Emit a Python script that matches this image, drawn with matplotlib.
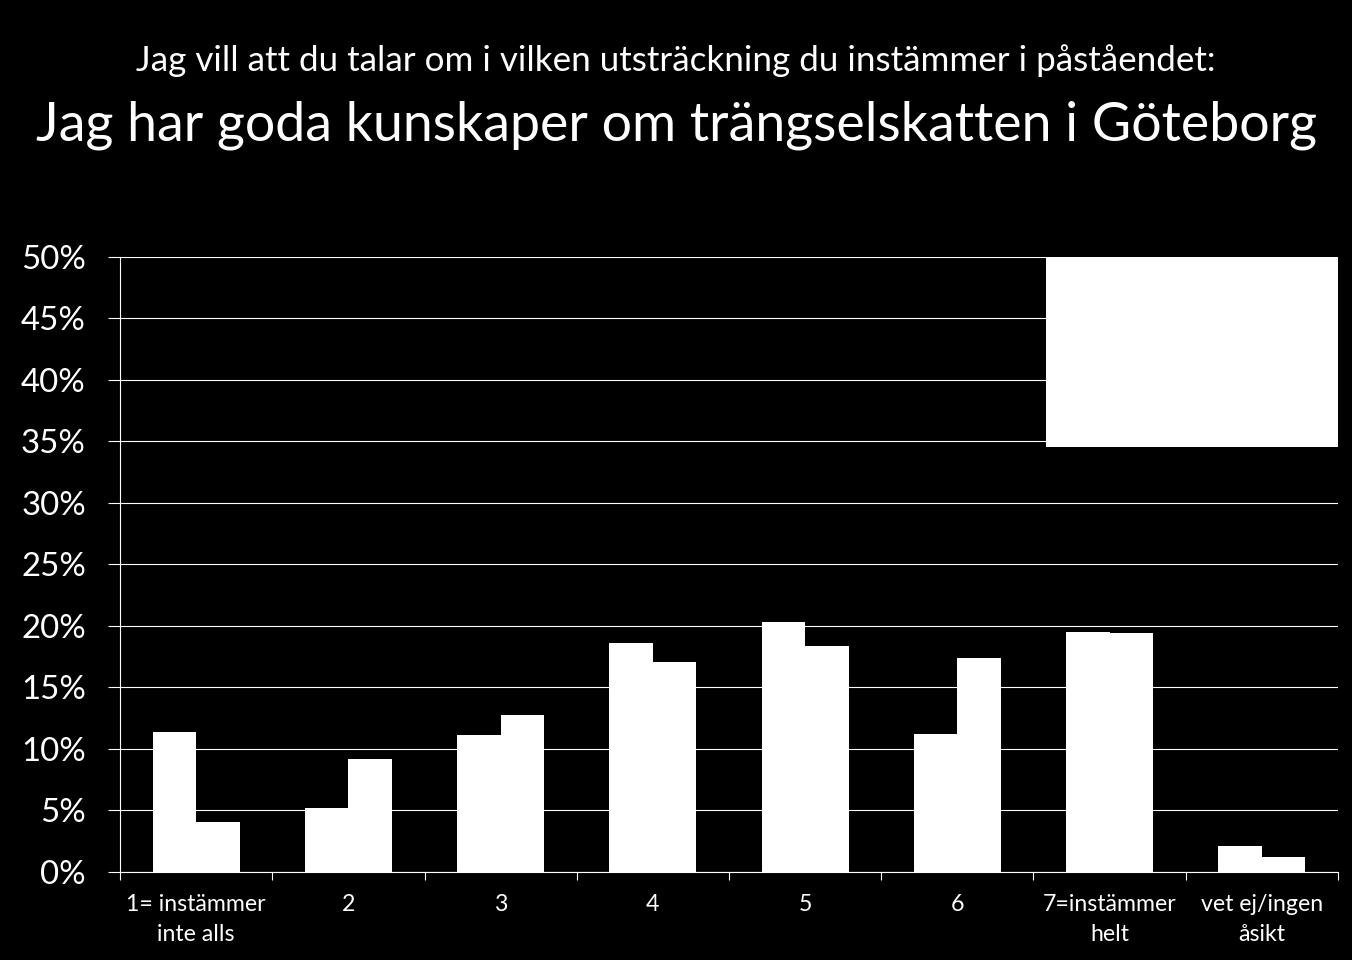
import matplotlib
matplotlib.use('Agg')
import matplotlib.pyplot as plt
import matplotlib.patches as mpatches
from matplotlib.ticker import FixedLocator, NullFormatter
import numpy as np

# ── Data ──────────────────────────────────────────────────────────────────────
categories = ['1= instämmer\ninte alls', '2', '3', '4', '5', '6',
              '7=instämmer\nhelt', 'vet ej/ingen\nåsikt']
series_a = [11.4, 5.2, 11.1, 18.6, 20.3, 11.2, 19.5, 2.1]
series_b = [4.1, 9.2, 12.8, 17.1, 18.4, 17.4, 19.4, 1.2]
yticks = list(range(0, 51, 5))

BG = 'black'
FG = 'white'
plt.rcParams['font.family'] = ['Lato', 'DejaVu Sans']

fig = plt.figure(figsize=(13.52, 9.6), dpi=100)
fig.patch.set_facecolor(BG)
ax = fig.add_axes([0.0888, 0.0917, 0.9008, 0.6406])
ax.set_facecolor(BG)

x = np.arange(len(categories))
w = 0.286
ax.bar(x - w / 2, series_a, w, color=FG, zorder=3, linewidth=0)
ax.bar(x + w / 2, series_b, w, color=FG, zorder=3, linewidth=0)

ax.set_xlim(-0.5, len(categories) - 0.5)
ax.set_ylim(0, 50)

ax.set_yticks(yticks)
ax.set_yticklabels([f'{t}%' for t in yticks])
ax.yaxis.grid(True, color=FG, linewidth=0.8, zorder=0)
ax.set_axisbelow(True)
ax.tick_params(axis='y', colors=FG, labelsize=23.8, length=8.6, width=0.8, pad=16)

# boundaries as major ticks, labels at category centres
ax.xaxis.set_major_locator(FixedLocator(np.arange(len(categories) + 1) - 0.5))
ax.xaxis.set_major_formatter(NullFormatter())
ax.xaxis.set_minor_locator(FixedLocator(x))
ax.set_xticklabels(categories, minor=True)
ax.tick_params(axis='x', which='major', colors=FG, length=5.8, width=0.8)
ax.tick_params(axis='x', which='minor', colors=FG, length=0, labelsize=16.7, pad=16)
for lbl in ax.get_xticklabels(minor=True):
    lbl.set_linespacing(1.5)

for side in ['top', 'right']:
    ax.spines[side].set_visible(False)
for side in ['left', 'bottom']:
    ax.spines[side].set_color(FG)
    ax.spines[side].set_linewidth(0.8)

# legend box (white, contents blank)
ax.add_patch(mpatches.Rectangle((0.760, 0.691), 0.240, 0.309, transform=ax.transAxes,
                                facecolor=FG, edgecolor='none', zorder=5, clip_on=False))

fig.text(0.5, 0.926, 'Jag vill att du talar om i vilken utsträckning du instämmer i påståendet:',
         ha='center', va='baseline', fontsize=25.2, color=FG)
fig.text(0.5, 0.854, 'Jag har goda kunskaper om trängselskatten i Göteborg',
         ha='center', va='baseline', fontsize=38.7, color=FG)

plt.savefig('out.png', dpi=100, facecolor=BG)
plt.close()
